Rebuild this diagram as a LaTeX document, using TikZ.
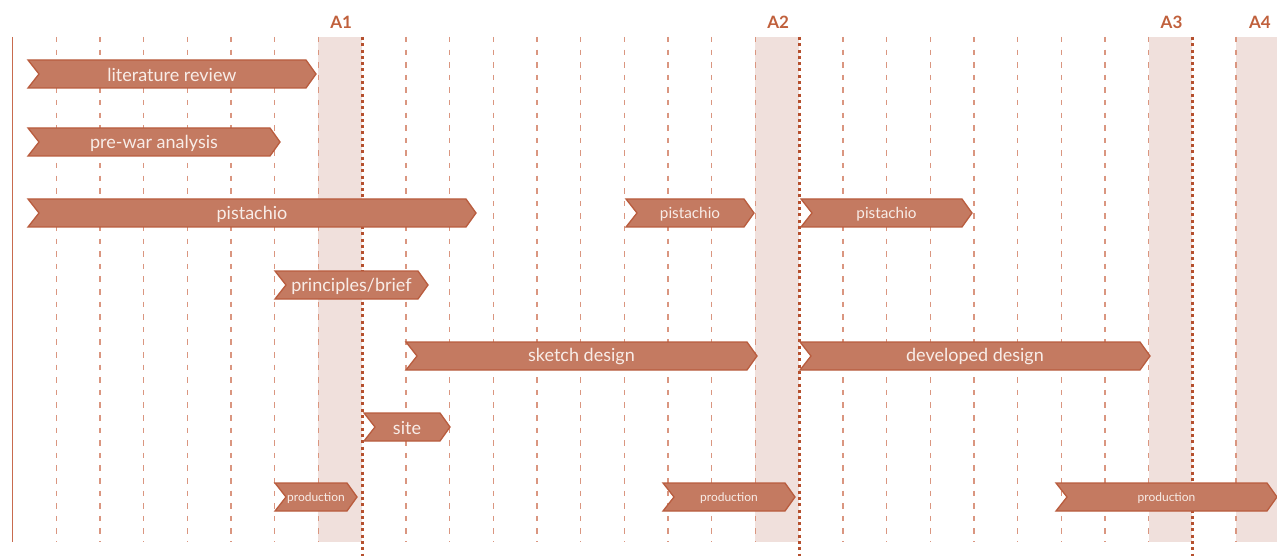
\documentclass[tikz,border=0pt]{standalone}
\usepackage{fontspec}
\setmainfont{Lato}
\definecolor{barfill}{HTML}{C47A61}
\definecolor{baredge}{HTML}{B95C3E}
\definecolor{bandfill}{HTML}{F0E0DC}
\definecolor{gridcol}{HTML}{DA9680}
\definecolor{milecol}{HTML}{B5502E}
\definecolor{labelcol}{HTML}{C0603C}
\definecolor{axiscol}{HTML}{C86B4E}
\definecolor{bartextcol}{HTML}{F8EDE8}
\tikzset{
  band/.style={fill=bandfill, draw=none},
  gridline/.style={draw=gridcol, line width=1.4pt, dash pattern=on 5.5pt off 7.1pt},
  milestone/.style={draw=milecol, line width=2.8pt, dash pattern=on 3pt off 3.3pt},
  axisline/.style={draw=axiscol, line width=1.5pt},
  mlabel/.style={text=labelcol, font=\fontsize{17}{17}\selectfont\bfseries, inner sep=0pt},
  barshape/.style={fill=barfill, draw=baredge, line width=1.3pt, line join=miter},
  bartext/.style={text=bartextcol, inner sep=0pt}
}
% chevron bar: name, left x, tip x, centre y, font size, text
\newcommand\gbar[6]{%
  \draw[barshape] (#2,#4-14) -- (#3-10,#4-14) -- (#3,#4) -- (#3-10,#4+14)
    -- (#2,#4+14) -- (#2+11,#4) -- cycle;
  \node[bartext, font=\fontsize{#5}{#5}\selectfont] (#1) at ({(#2+#3)/2},#4+1) {#6};}
\begin{document}
\begin{tikzpicture}[x=1pt,y=-1pt]
\useasboundingbox (0,0) rectangle (1277,556);
% review periods
\fill[band] ({12.5+43.7*7},37) rectangle ({12.5+43.7*8},542);
\fill[band] ({12.5+43.7*17},37) rectangle ({12.5+43.7*18},542);
\fill[band] ({12.5+43.7*26},37) rectangle ({12.5+43.7*27},542);
\fill[band] ({12.5+43.7*28},37) rectangle (1277,542);
% week grid
\foreach \k in {1,...,7,9,10,...,17,19,20,...,26,28}
  \draw[gridline] ({12.5+43.7*\k},37) -- ++(0,505);
% deadlines
\foreach \k in {8,18,27}
  \draw[milestone] ({12.5+43.7*\k},37) -- ++(0,519);
\draw[axisline] (12.5,37) -- (12.5,542);
% deadline labels
\node[mlabel] (a1) at ({12.5+43.7*7.5+1},22) {A1};
\node[mlabel] (a2) at ({12.5+43.7*17.5+1},22) {A2};
\node[mlabel] (a3) at ({12.5+43.7*26.5+1},22) {A3};
\node[mlabel] (a4) at (1260,22) {A4};
% tasks
\gbar{lit}{28}{316}{74}{18}{literature review}
\gbar{prewar}{28}{280}{142}{18}{pre-war analysis}
\gbar{pistA}{28}{476}{213}{18}{pistachio}
\gbar{pistB}{626}{754}{213}{15.3}{pistachio}
\gbar{pistC}{801}{972}{213}{15.3}{pistachio}
\gbar{brief}{275}{428}{285}{18}{principles/brief}
\gbar{sketch}{406}{757}{356}{18}{sketch design}
\gbar{developed}{800}{1150}{356}{18}{developed design}
\gbar{site}{364}{450}{427}{18}{site}
\gbar{prodA}{275}{357}{497}{12}{production}
\gbar{prodB}{663}{795}{497}{12}{production}
\gbar{prodC}{1056}{1277}{497}{12}{production}
\end{tikzpicture}
\end{document}
